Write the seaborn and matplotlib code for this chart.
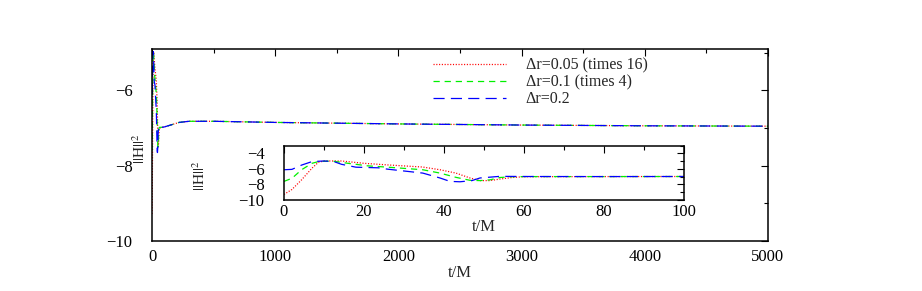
import matplotlib
matplotlib.use("Agg")
import pandas as pd
import matplotlib.pyplot as plt
import seaborn as sns
from matplotlib.ticker import MultipleLocator

sns.set_style("white")
plt.rcParams["font.family"] = ["Liberation Serif", "DejaVu Serif"]
plt.rcParams["mathtext.fontset"] = "stix"
plt.rcParams["lines.scale_dashes"] = False

# data: t/M and ||H||^2 for each resolution
labels = ["\u0394r=0.05 (times 16)", "\u0394r=0.1 (times 4)", "\u0394r=0.2"]

tail_t = [150, 220, 300, 500, 1000, 2000, 3000, 4000, 5000]
tail_h = [-6.92, -6.85, -6.82, -6.82, -6.85, -6.89, -6.92, -6.94, -6.95]

red_t = [0, 2, 4.4, 7, 8.6, 10, 14.4, 20, 26, 34.7, 39, 43, 46.5, 49, 51.5,
         54, 57, 60, 80, 100] + tail_t
red_h = [-9.28, -8.64, -7.4, -5.9, -5.14, -4.97, -4.97, -5.27, -5.48, -5.75,
         -6.1, -6.53, -7.16, -7.5, -7.5, -7.3, -7.1, -7.0, -6.98, -6.97] + tail_h

green_t = [0, 2, 4.4, 7, 8.6, 12, 16, 21, 26, 34.7, 39, 43, 46.5, 49, 51.5,
           54, 57, 60, 80, 100] + tail_t
green_h = [-7.6, -7.2, -6.1, -5.27, -5.05, -4.97, -5.27, -5.6, -5.77, -6.1,
           -6.53, -7.08, -7.46, -7.5, -7.4, -7.1, -7.0, -6.98, -6.98, -6.97] + tail_h

blue_t = [0, 2, 4.4, 7, 10, 12.5, 14.4, 18, 23.6, 26, 34.7, 39, 41.5, 44, 47,
          49, 54, 60, 80, 100] + tail_t
blue_h = [-6.1, -6.05, -5.5, -5.05, -4.97, -5.05, -5.4, -5.77, -5.85, -6.03,
          -6.53, -7.16, -7.6, -7.65, -7.5, -7.16, -6.95, -6.97, -6.98, -6.97] + tail_h

series = [
    (labels[0], red_t, red_h, "#ff0000", (0, (0.8, 1.2))),
    (labels[1], green_t, green_h, "#00f000", (0, (4.5, 3.5))),
    (labels[2], blue_t, blue_h, "#0000ff", (0, (8, 4.5))),
]

fig = plt.figure(figsize=(9.22, 2.91), dpi=100)
ax = fig.add_axes([0.1649, 0.1718, 0.668, 0.6598])
ins = fig.add_axes([0.308, 0.3127, 0.4338, 0.1866])


def style_axes(a, pad_y, pad_x, size):
    for s in a.spines.values():
        s.set_color("black")
        s.set_linewidth(1.1)
    a.tick_params(which="both", direction="in", top=True, right=True,
                  colors="black", labelsize=size)
    a.tick_params(which="major", length=5, width=0.8)
    a.tick_params(which="minor", length=3, width=0.8)
    a.tick_params(axis="y", pad=pad_y)
    a.tick_params(axis="x", pad=pad_x)
    a.grid(False)


for name, t, h, col, ls in series:
    df = pd.DataFrame({"t": t, "h": h})
    sns.lineplot(data=df, x="t", y="h", ax=ax, color=col, linestyle=ls,
                 linewidth=0.9, label=name, estimator=None)
    sns.lineplot(data=df[df["t"] <= 100], x="t", y="h", ax=ins, color=col,
                 linestyle=ls, linewidth=0.9, legend=False, estimator=None)

ax.set_xlim(0, 5000)
ax.set_ylim(-10, -4.9)
ax.xaxis.set_major_locator(MultipleLocator(1000))
ax.xaxis.set_minor_locator(MultipleLocator(500))
ax.yaxis.set_major_locator(MultipleLocator(2))
ax.yaxis.set_minor_locator(MultipleLocator(1))
style_axes(ax, 14, 6, 12)
ax.set_xlabel("t/M", fontsize=12, labelpad=0)
ax.set_ylabel(r"$||\mathrm{H}||^2$", fontsize=11)
ax.yaxis.set_label_coords(-0.006, 0.48)

ins.set_xlim(0, 100)
ins.set_ylim(-10, -3)
ins.xaxis.set_major_locator(MultipleLocator(20))
ins.xaxis.set_minor_locator(MultipleLocator(10))
ins.yaxis.set_major_locator(MultipleLocator(2))
ins.yaxis.set_minor_locator(MultipleLocator(1))
style_axes(ins, 14, 3, 12)
ins.set_xlabel("t/M", fontsize=12, labelpad=-1)
ins.set_ylabel(r"$||\mathrm{H}||^2$", fontsize=11)
ins.yaxis.set_label_coords(-0.19, 0.45)

ax.legend(loc="upper left", bbox_to_anchor=(0.456, 0.955), frameon=False,
          fontsize=11.5, handlelength=4.6, handletextpad=1.2,
          labelspacing=0.05, borderpad=0, borderaxespad=0)

fig.savefig("out.png", dpi=100)
